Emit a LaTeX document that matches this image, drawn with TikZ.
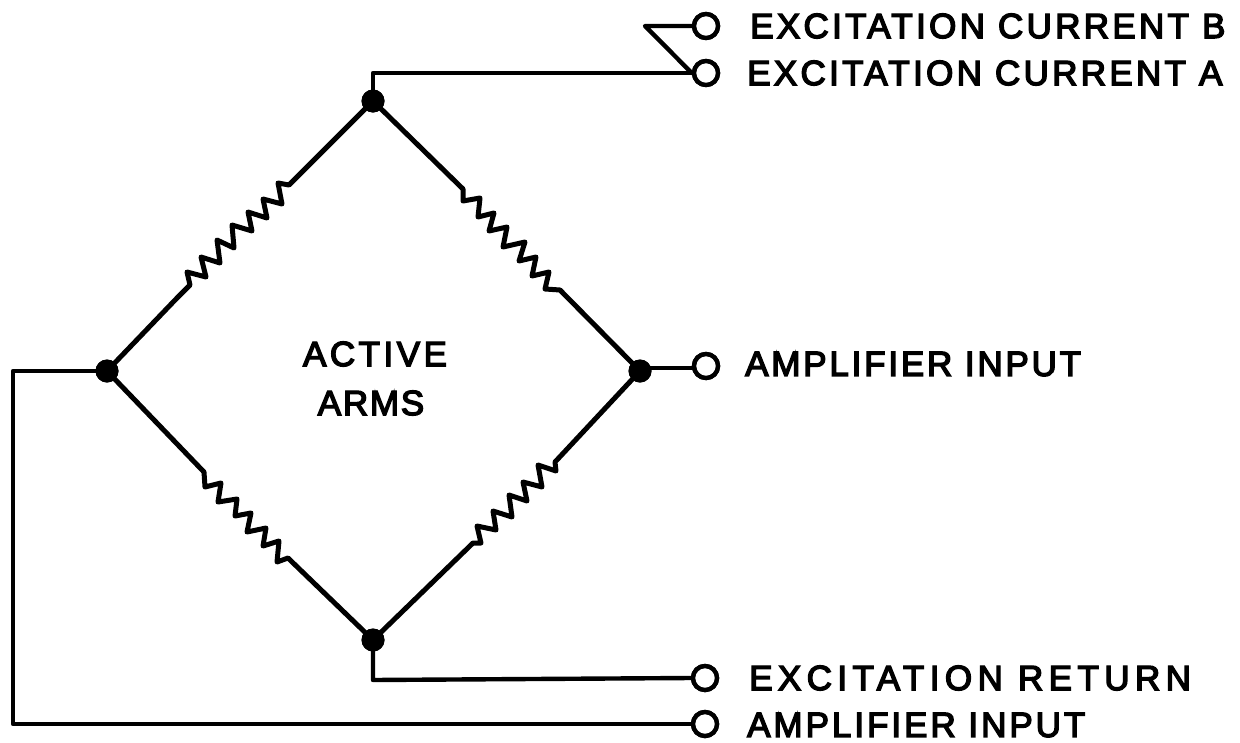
\documentclass[tikz,border=0pt]{standalone}
\usepackage{fontspec}
\usetikzlibrary{calc}
\setmainfont{Liberation Sans}
\newfontfamily\lblfont[FakeBold=4]{Liberation Sans}
\newcommand{\spaced}[2]{\addfontfeature{LetterSpace=#1}#2}
\begin{document}
\begin{tikzpicture}[x=1pt,y=-1pt,
  wire/.style={line width=5pt,line join=round,line cap=round,black},
  lead/.style={line width=4.4pt,line join=round,line cap=round,black},
  termin/.style={circle,draw=black,fill=white,line width=4.4pt,minimum size=24pt,inner sep=0pt},
  junction/.style={circle,fill=black,minimum size=23pt,inner sep=0pt},
  lbl/.style={anchor=west,inner sep=0pt,font=\fontsize{35}{35}\selectfont\lblfont,text=black}]
\useasboundingbox (0,0) rectangle (1240,742);
\node[junction] (top) at (373,101) {};
\node[junction] (left) at (107,371) {};
\node[junction] (right) at (640,371) {};
\node[junction] (bot) at (373,640) {};
\node[termin] (tb) at (706,26) {};
\node[termin] (ta) at (706,73) {};
\node[termin] (ti) at (706,366) {};
\node[termin] (tr) at (705,678) {};
\node[termin] (tj) at (705,724) {};
\coordinate (kink) at (645,26);
\coordinate (tl) at (373,73);
\coordinate (ril) at (692,368);
\coordinate (bl) at (373,680);
\coordinate (bj) at (13,371);
\coordinate (bk) at (13,724);
% resistive arms
\draw[wire] (left.center) -- (177,298) -- (190,285) -- (187,272) -- (206,277) -- (201,257) -- (220,263) -- (217,240) -- (234,248) -- (232,225) -- (252,231) -- (248,212) -- (267,218) -- (263,199) -- (282,204) -- (278,183) -- (289,185) -- (top.center);
\draw[wire] (top.center) -- (463,189) -- (463,201) -- (480,198) -- (478,217) -- (494,213) -- (489,231) -- (507,227) -- (503,247) -- (525,242) -- (519,261) -- (536,257) -- (532,276) -- (549,272) -- (545,289) -- (560,290) -- (right.center);
\draw[wire] (left.center) -- (204,472) -- (205,487) -- (221,483) -- (218,502) -- (237,499) -- (235,516) -- (251,513) -- (247,532) -- (266,528) -- (263,546) -- (279,541) -- (277,562) -- (288,558) -- (bot.center);
\draw[wire] (bot.center) -- (473,543) -- (481,543) -- (477,526) -- (496,530) -- (493,511) -- (512,517) -- (509,495) -- (527,501) -- (523,482) -- (542,487) -- (538,465) -- (556,471) -- (555,462) -- (right.center);
% leads
\draw[lead] (top.center) -- (tl) -- (ta.west);
\draw[lead] (tb.west) -- (kink) -- (ta.west);
\draw[lead] (right.center |- ril) -- (ril);
\draw[lead] (bot.center) -- (bl) -- (tr.west);
\draw[lead] (left.center) -- (bj) -- (bk) -- (tj.west);
\node[junction] at (top) {};
\node[junction] at (left) {};
\node[junction] at (right) {};
\node[junction] at (bot) {};
\node[termin] at (tb) {};
\node[termin] at (ta) {};
\node[termin] at (ti) {};
\node[termin] at (tr) {};
\node[termin] at (tj) {};
% labels
\node[lbl] (lb) at (750,26) {\spaced{9.5}{EXCITATION CURRENT B}};
\node[lbl] (la) at (747,73) {\spaced{9.5}{EXCITATION CURRENT A}};
\node[lbl] (li) at (745,364) {\spaced{8}{AMPLIFIER INPUT}};
\node[lbl] (lr) at (749,678) {\spaced{15.5}{EXCITATION RETURN}};
\node[lbl] (lj) at (747,725) {\spaced{8.5}{AMPLIFIER INPUT}};
\node[lbl,anchor=center] (act) at (375,354) {\spaced{10}{ACTIVE}};
\node[lbl,anchor=center] (arm) at (371,403) {\spaced{5}{ARMS}};
\end{tikzpicture}
\end{document}
